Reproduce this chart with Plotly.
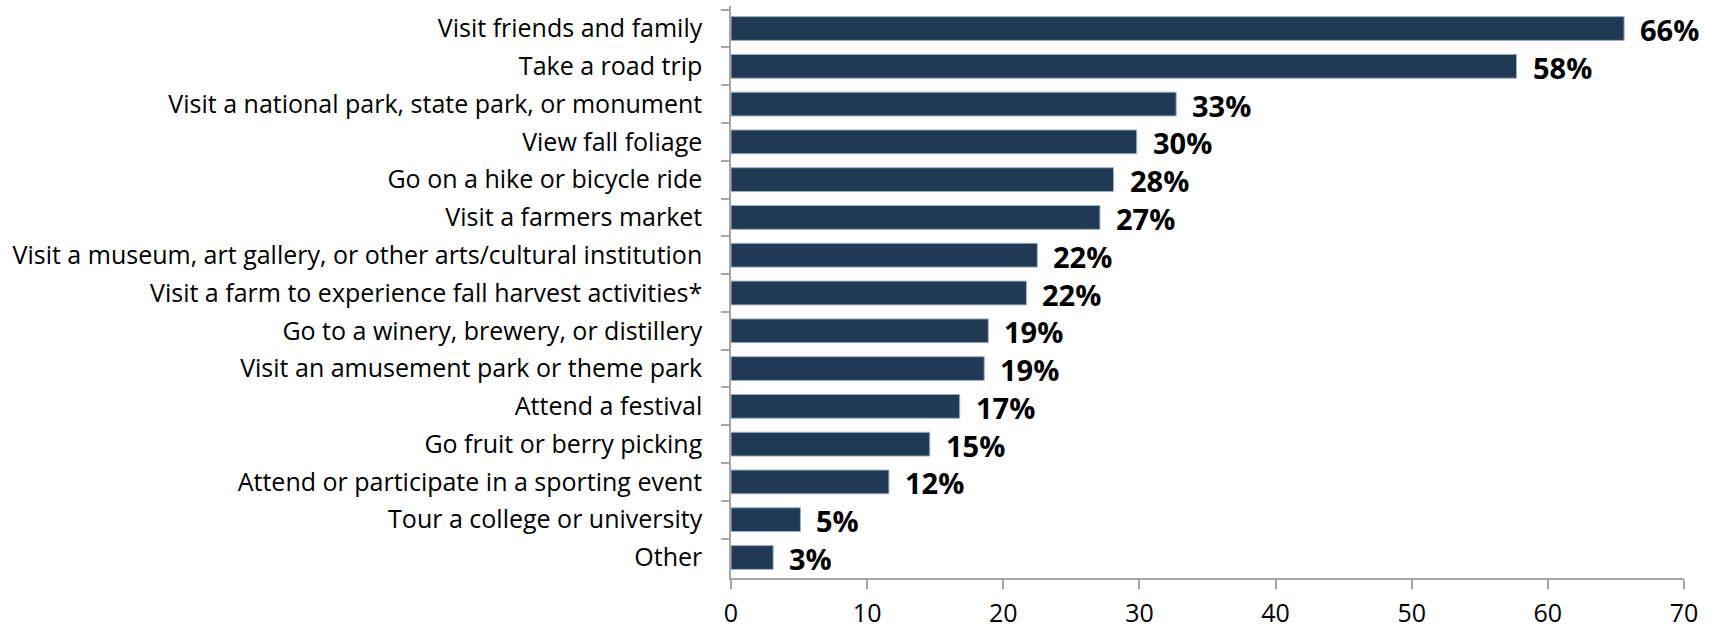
import plotly.graph_objects as go

categories = [
    "Visit friends and family",
    "Take a road trip",
    "Visit a national park, state park, or monument",
    "View fall foliage",
    "Go on a hike or bicycle ride",
    "Visit a farmers market",
    "Visit a museum, art gallery, or other arts/cultural institution",
    "Visit a farm to experience fall harvest activities*",
    "Go to a winery, brewery, or distillery",
    "Visit an amusement park or theme park",
    "Attend a festival",
    "Go fruit or berry picking",
    "Attend or participate in a sporting event",
    "Tour a college or university",
    "Other",
]
values = [65.6, 57.7, 32.7, 29.8, 28.1, 27.1, 22.5, 21.7, 18.9, 18.6, 16.8, 14.6, 11.6, 5.1, 3.1]
labels = ["66%", "58%", "33%", "30%", "28%", "27%", "22%", "22%", "19%", "19%", "17%", "15%", "12%", "5%", "3%"]
x_ticks = [0, 10, 20, 30, 40, 50, 60, 70]

BAR = "#203a56"
AXIS = "#a6a6a6"
FONT = "Open Sans"

fig = go.Figure()
fig.add_trace(go.Bar(
    x=values, y=categories, orientation="h",
    marker=dict(color=BAR, line=dict(color="#9fb0c2", width=1)),
    hoverinfo="skip",
))

for c, v, t in zip(categories, values, labels):
    fig.add_annotation(
        x=v, y=c, text="<b>" + t + "</b>", showarrow=False,
        xanchor="left", yanchor="middle", xshift=14, yshift=-1,
        font=dict(family=FONT, size=29, color="#000000"),
    )

fig.update_layout(
    width=1715, height=630,
    margin=dict(l=731, r=31, t=6, b=52),
    paper_bgcolor="white", plot_bgcolor="white",
    showlegend=False, bargap=0.37,
    font=dict(family=FONT, size=25, color="#000000"),
)
fig.update_xaxes(
    range=[0, 70], tickvals=x_ticks, showgrid=False, zeroline=False,
    showline=True, linecolor=AXIS, linewidth=1.5,
    ticks="outside", ticklen=9, tickcolor=AXIS, tickwidth=1.5,
    ticklabelstandoff=3, automargin=False,
    tickfont=dict(family=FONT, size=25, color="#000000"),
)
fig.update_yaxes(
    autorange="reversed", showgrid=False, zeroline=False,
    showline=True, linecolor=AXIS, linewidth=1.5,
    ticks="outside", ticklen=8, tickcolor=AXIS, tickwidth=1.5,
    tickson="boundaries", ticklabelstandoff=22, automargin=False,
    tickfont=dict(family=FONT, size=25, color="#000000"),
)

fig.write_html(
    "out.html",
    config={"displayModeBar": False},
    post_script="document.body.style.margin='0';document.body.style.padding='0';",
)
